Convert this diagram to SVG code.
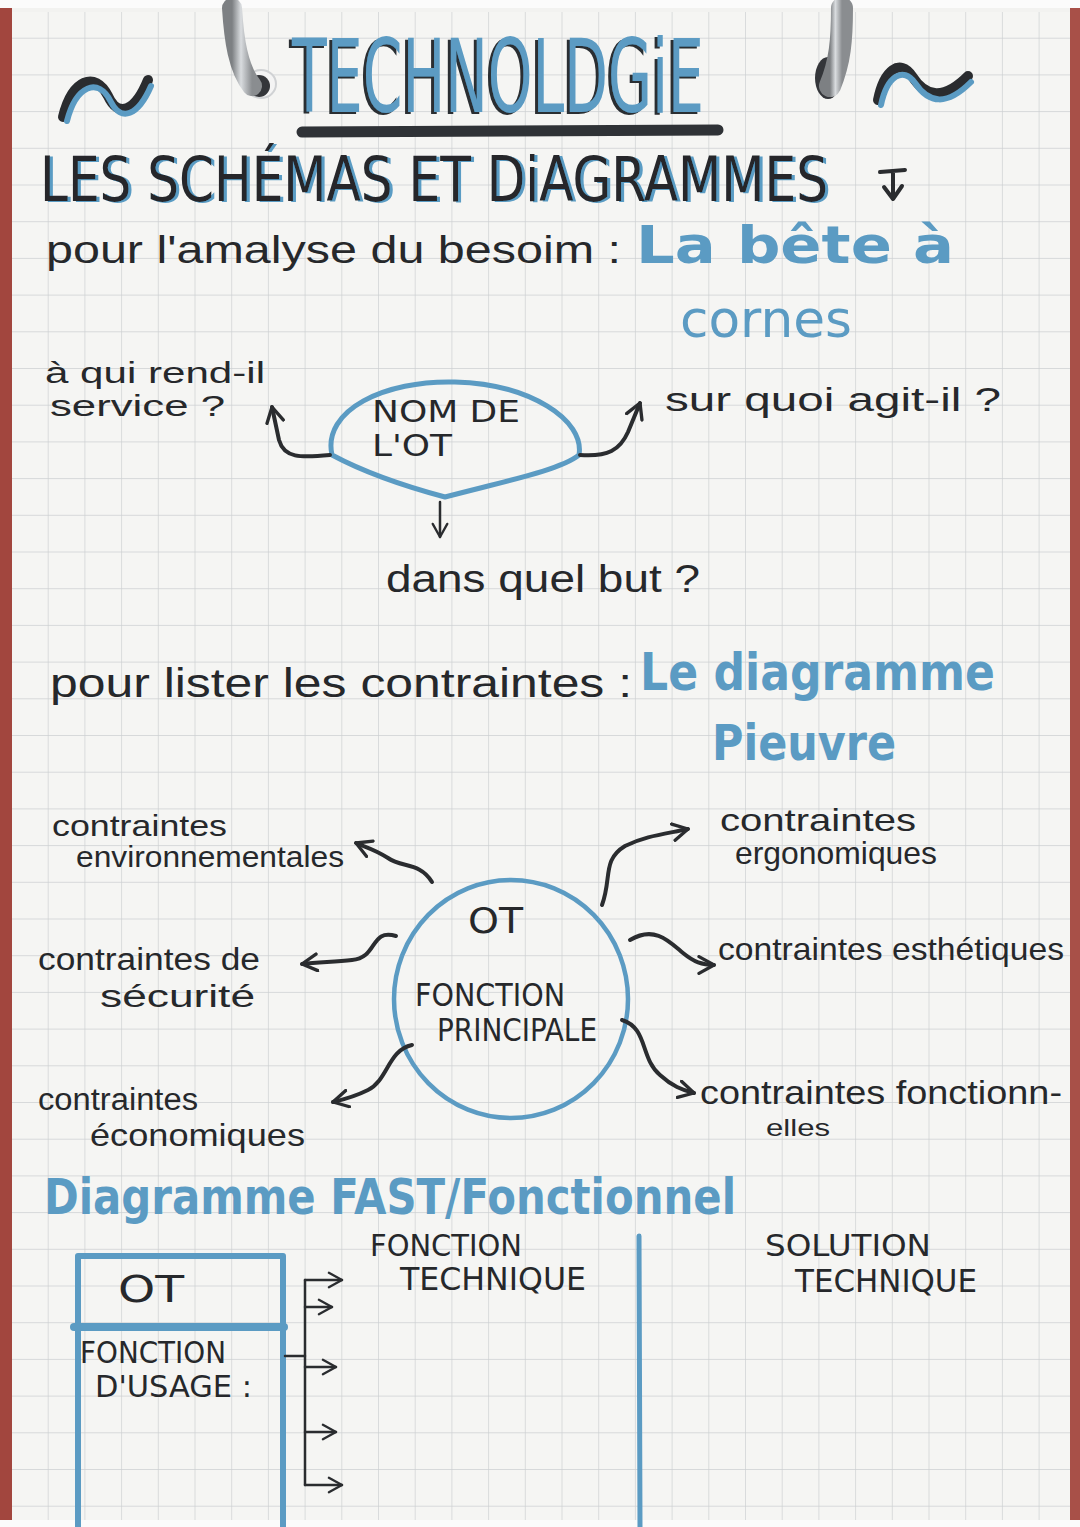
<svg xmlns="http://www.w3.org/2000/svg" width="1080" height="1527" viewBox="0 0 1080 1527">
<defs>
<pattern id="grid" width="36.7" height="36.7" patternUnits="userSpaceOnUse" x="11" y="1">
<path d="M36.7 0 L0 0 0 36.7" fill="none" stroke="#cdd0d2" stroke-width="1.4"/>
</pattern>
<linearGradient id="metal" x1="0" y1="0" x2="1" y2="0">
<stop offset="0" stop-color="#7d8083"/><stop offset="0.45" stop-color="#d9dcdf"/><stop offset="1" stop-color="#8a8d90"/>
</linearGradient>
<filter id="shDark" x="-5%" y="-10%" width="110%" height="120%"><feDropShadow dx="-3" dy="2" stdDeviation="0.3" flood-color="#2c2f33"/></filter>
<filter id="shBlue" x="-5%" y="-10%" width="110%" height="120%"><feDropShadow dx="3" dy="1" stdDeviation="0.3" flood-color="#5a9cc4"/></filter>
<marker id="ah" viewBox="0 0 12 12" refX="10" refY="6" markerWidth="5" markerHeight="5" orient="auto" markerUnits="strokeWidth">
<path d="M1 1 L10 6 L1 11" fill="none" stroke="#2a2c2f" stroke-width="2" stroke-linecap="round" stroke-linejoin="round"/>
</marker>
<marker id="ahs" viewBox="0 0 12 12" refX="10" refY="6" markerWidth="7" markerHeight="7" orient="auto" markerUnits="strokeWidth">
<path d="M1 1 L10 6 L1 11" fill="none" stroke="#2a2c2f" stroke-width="1.6" stroke-linecap="round" stroke-linejoin="round"/>
</marker>
</defs>
<style>
.ink{font-family:"Liberation Sans","DejaVu Sans",sans-serif;fill:#26282b}
.cap{font-family:"DejaVu Sans Condensed","DejaVu Sans",sans-serif;fill:#26282b}
.blue{font-family:"DejaVu Sans","Liberation Sans",sans-serif;fill:#5b9bc3;font-weight:bold}
.conn{fill:none;stroke:#2a2c2f;stroke-width:4;stroke-linecap:round;stroke-linejoin:round}
.thin{fill:none;stroke:#2a2c2f;stroke-width:2.5;stroke-linecap:round;stroke-linejoin:round}
.bl{fill:none;stroke:#5b9bc3;stroke-linecap:round;stroke-linejoin:round}
</style>

<!-- page -->
<g id="page">
<rect x="0" y="0" width="1080" height="1527" fill="#f2f2f0"/>
<rect x="0" y="0" width="12" height="1527" fill="#a2463e"/>
<rect x="1070" y="0" width="10" height="1527" fill="#a85048"/>
<rect x="12" y="12" width="1058" height="1508" fill="#f5f5f3"/>
<rect x="12" y="12" width="1058" height="1508" fill="url(#grid)"/>
<rect x="0" y="0" width="1080" height="8" fill="#fbfbfb"/>
<rect x="0" y="1520" width="1080" height="7" fill="#fbfbfb"/>
</g>

<!-- rings -->
<g id="rings">
<ellipse cx="261" cy="84" rx="15" ry="14" fill="#f4f4f4" stroke="#d0d2d4" stroke-width="2"/>
<ellipse cx="259" cy="86" rx="11" ry="11" fill="#34363a"/>
<path d="M232 8 C234 40 238 68 252 86" fill="none" stroke="url(#metal)" stroke-width="20" stroke-linecap="round"/>
<ellipse cx="828" cy="78" rx="13" ry="21" fill="#34363a"/>
<path d="M842 8 C842 40 840 62 830 86" fill="none" stroke="url(#metal)" stroke-width="22" stroke-linecap="round"/>
</g>

<!-- title -->
<g id="title">
<path d="M63 117 C72 80 95 70 108 96 C118 118 135 112 148 80" fill="none" stroke="#2a2c2f" stroke-width="10" stroke-linecap="round"/>
<path d="M67 121 C76 86 98 76 111 102 C121 122 138 116 151 86" fill="none" stroke="#5b9bc3" stroke-width="6" stroke-linecap="round"/>
<path d="M878 100 C884 70 900 58 912 76 C926 98 944 100 968 76" fill="none" stroke="#2a2c2f" stroke-width="10" stroke-linecap="round"/>
<path d="M881 105 C887 76 903 66 915 83 C929 104 947 106 971 82" fill="none" stroke="#5b9bc3" stroke-width="6" stroke-linecap="round"/>
<text x="292" y="112" class="cap" style="fill:#5b9bc3" font-size="102" textLength="412" lengthAdjust="spacingAndGlyphs" filter="url(#shDark)">TECHNOLDGiE</text>
<path d="M302 132 L718 130" stroke="#2f3236" stroke-width="11" stroke-linecap="round"/>
<text x="40" y="201" class="cap" font-size="62" textLength="788" lengthAdjust="spacingAndGlyphs" filter="url(#shBlue)">LES SCHÉMAS ET DiAGRAMMES</text>
<path d="M880 172 L905 170 M893 172 L893 198 M884 187 L893 199 L902 186" fill="none" stroke="#2a2c2f" stroke-width="4" stroke-linecap="round" stroke-linejoin="round"/>
</g>

<!-- bete a cornes -->
<g id="heading-bete">
<text x="46" y="263" class="ink" font-size="38" textLength="575" lengthAdjust="spacingAndGlyphs">pour l'amalyse du besoim :</text>
<text x="636" y="263" class="blue" font-size="52" textLength="318" lengthAdjust="spacingAndGlyphs">La bête à</text>
<text x="680" y="337" class="blue" font-size="52" textLength="172" lengthAdjust="spacingAndGlyphs" style="font-weight:normal">cornes</text>
</g>
<g id="node-nom-ot">
<path class="bl" stroke-width="5" d="M332 455 C322 410 385 380 455 382 C530 384 585 420 579 455 C560 470 510 480 445 497 C400 485 360 470 332 455 Z"/>
<text x="372" y="422" class="cap" font-size="30" textLength="148" lengthAdjust="spacingAndGlyphs">NOM DE</text>
<text x="372" y="456" class="cap" font-size="30" textLength="80" lengthAdjust="spacingAndGlyphs">L'OT</text>
</g>
<g id="node-qui">
<text x="45" y="383" class="ink" font-size="30" textLength="220" lengthAdjust="spacingAndGlyphs">à qui rend-il</text>
<text x="50" y="416" class="ink" font-size="30" textLength="175" lengthAdjust="spacingAndGlyphs">service ?</text>
</g>
<g id="node-quoi">
<text x="665" y="411" class="ink" font-size="34" textLength="336" lengthAdjust="spacingAndGlyphs">sur quoi agit-il ?</text>
</g>
<g id="node-but">
<text x="386" y="592" class="ink" font-size="38" textLength="314" lengthAdjust="spacingAndGlyphs">dans quel but ?</text>
</g>

<!-- pieuvre -->
<g id="heading-pieuvre">
<text x="50" y="697" class="ink" font-size="40" textLength="582" lengthAdjust="spacingAndGlyphs">pour lister les contraintes :</text>
<text x="640" y="690" class="blue" font-size="52" textLength="355" lengthAdjust="spacingAndGlyphs">Le diagramme</text>
<text x="712" y="760" class="blue" font-size="50" textLength="184" lengthAdjust="spacingAndGlyphs">Pieuvre</text>
</g>
<g id="node-ot-principale">
<ellipse cx="511" cy="999" rx="117" ry="119" class="bl" stroke-width="4.5"/>
<text x="468" y="933" class="cap" font-size="36" textLength="55" lengthAdjust="spacingAndGlyphs">OT</text>
<text x="415" y="1006" class="cap" font-size="32" textLength="150" lengthAdjust="spacingAndGlyphs">FONCTION</text>
<text x="437" y="1041" class="cap" font-size="32" textLength="160" lengthAdjust="spacingAndGlyphs">PRINCIPALE</text>
</g>
<g id="node-env">
<text x="52" y="836" class="ink" font-size="30" textLength="175" lengthAdjust="spacingAndGlyphs">contraintes</text>
<text x="76" y="867" class="ink" font-size="30" textLength="268" lengthAdjust="spacingAndGlyphs">environnementales</text>
</g>
<g id="node-ergo">
<text x="720" y="831" class="ink" font-size="32" textLength="196" lengthAdjust="spacingAndGlyphs">contraintes</text>
<text x="735" y="864" class="ink" font-size="32" textLength="202" lengthAdjust="spacingAndGlyphs">ergonomiques</text>
</g>
<g id="node-secu">
<text x="38" y="970" class="ink" font-size="31" textLength="222" lengthAdjust="spacingAndGlyphs">contraintes de</text>
<text x="100" y="1007" class="ink" font-size="31" textLength="155" lengthAdjust="spacingAndGlyphs">sécurité</text>
</g>
<g id="node-esth">
<text x="718" y="960" class="ink" font-size="32" textLength="346" lengthAdjust="spacingAndGlyphs">contraintes esthétiques</text>
</g>
<g id="node-eco">
<text x="38" y="1110" class="ink" font-size="31" textLength="160" lengthAdjust="spacingAndGlyphs">contraintes</text>
<text x="90" y="1146" class="ink" font-size="32" textLength="215" lengthAdjust="spacingAndGlyphs">économiques</text>
</g>
<g id="node-fonc">
<text x="700" y="1104" class="ink" font-size="34" textLength="362" lengthAdjust="spacingAndGlyphs">contraintes fonctionn-</text>
<text x="766" y="1136" class="ink" font-size="24" textLength="64" lengthAdjust="spacingAndGlyphs">elles</text>
</g>

<!-- FAST -->
<g id="heading-fast">
<text x="44" y="1214" class="blue" font-size="50" textLength="692" lengthAdjust="spacingAndGlyphs">Diagramme FAST/Fonctionnel</text>
</g>
<g id="node-ot-usage">
<path class="bl" stroke-width="6" d="M78 1527 L78 1256 L283 1256 L283 1527"/>
<path class="bl" stroke-width="8" d="M74 1327 L284 1327"/>
<text x="118" y="1302" class="cap" font-size="38" textLength="66" lengthAdjust="spacingAndGlyphs">OT</text>
<text x="80" y="1363" class="cap" font-size="30" textLength="146" lengthAdjust="spacingAndGlyphs">FONCTION</text>
<text x="95" y="1397" class="cap" font-size="30" textLength="157" lengthAdjust="spacingAndGlyphs">D'USAGE :</text>
</g>
<g id="node-fonction-technique">
<text x="370" y="1256" class="cap" font-size="30" textLength="152" lengthAdjust="spacingAndGlyphs">FONCTION</text>
<text x="400" y="1290" class="cap" font-size="32" textLength="186" lengthAdjust="spacingAndGlyphs">TECHNIQUE</text>
</g>
<g id="node-solution-technique">
<text x="765" y="1256" class="cap" font-size="30" textLength="166" lengthAdjust="spacingAndGlyphs">SOLUTION</text>
<text x="795" y="1292" class="cap" font-size="32" textLength="182" lengthAdjust="spacingAndGlyphs">TECHNIQUE</text>
</g>
<g id="separator">
<path class="bl" stroke-width="5" d="M639 1236 L640 1527"/>
</g>

<!-- connectors -->
<g id="connectors">
<path class="conn" marker-end="url(#ah)" d="M330 455 C300 458 284 458 279 440 L272 407"/>
<path class="conn" marker-end="url(#ah)" d="M580 455 C608 457 620 450 628 432 L640 403"/>
<path class="thin" marker-end="url(#ahs)" d="M440 502 L440 537"/>
<path class="conn" marker-end="url(#ah)" d="M432 882 C420 862 402 868 388 858 C376 850 368 848 356 843"/>
<path class="conn" marker-end="url(#ah)" d="M602 905 C612 878 602 860 625 846 C645 836 665 834 688 829"/>
<path class="conn" marker-end="url(#ah)" d="M396 936 C370 928 378 958 352 960 C335 962 320 962 302 964"/>
<path class="conn" marker-end="url(#ah)" d="M630 940 C655 925 670 942 683 953 C694 962 702 965 714 965"/>
<path class="conn" marker-end="url(#ah)" d="M622 1020 C648 1028 640 1058 660 1075 C672 1086 682 1090 694 1093"/>
<path class="conn" marker-end="url(#ah)" d="M412 1045 C388 1050 388 1080 368 1090 C356 1096 346 1099 333 1102"/>
<path class="thin" d="M285 1356 L305 1356"/>
<path class="thin" d="M305 1280 L305 1485"/>
<path class="thin" marker-end="url(#ahs)" d="M305 1280 L342 1280"/>
<path class="thin" marker-end="url(#ahs)" d="M305 1307 L332 1307"/>
<path class="thin" marker-end="url(#ahs)" d="M305 1367 L336 1367"/>
<path class="thin" marker-end="url(#ahs)" d="M305 1432 L336 1432"/>
<path class="thin" marker-end="url(#ahs)" d="M305 1485 L342 1485"/>
</g>
</svg>
